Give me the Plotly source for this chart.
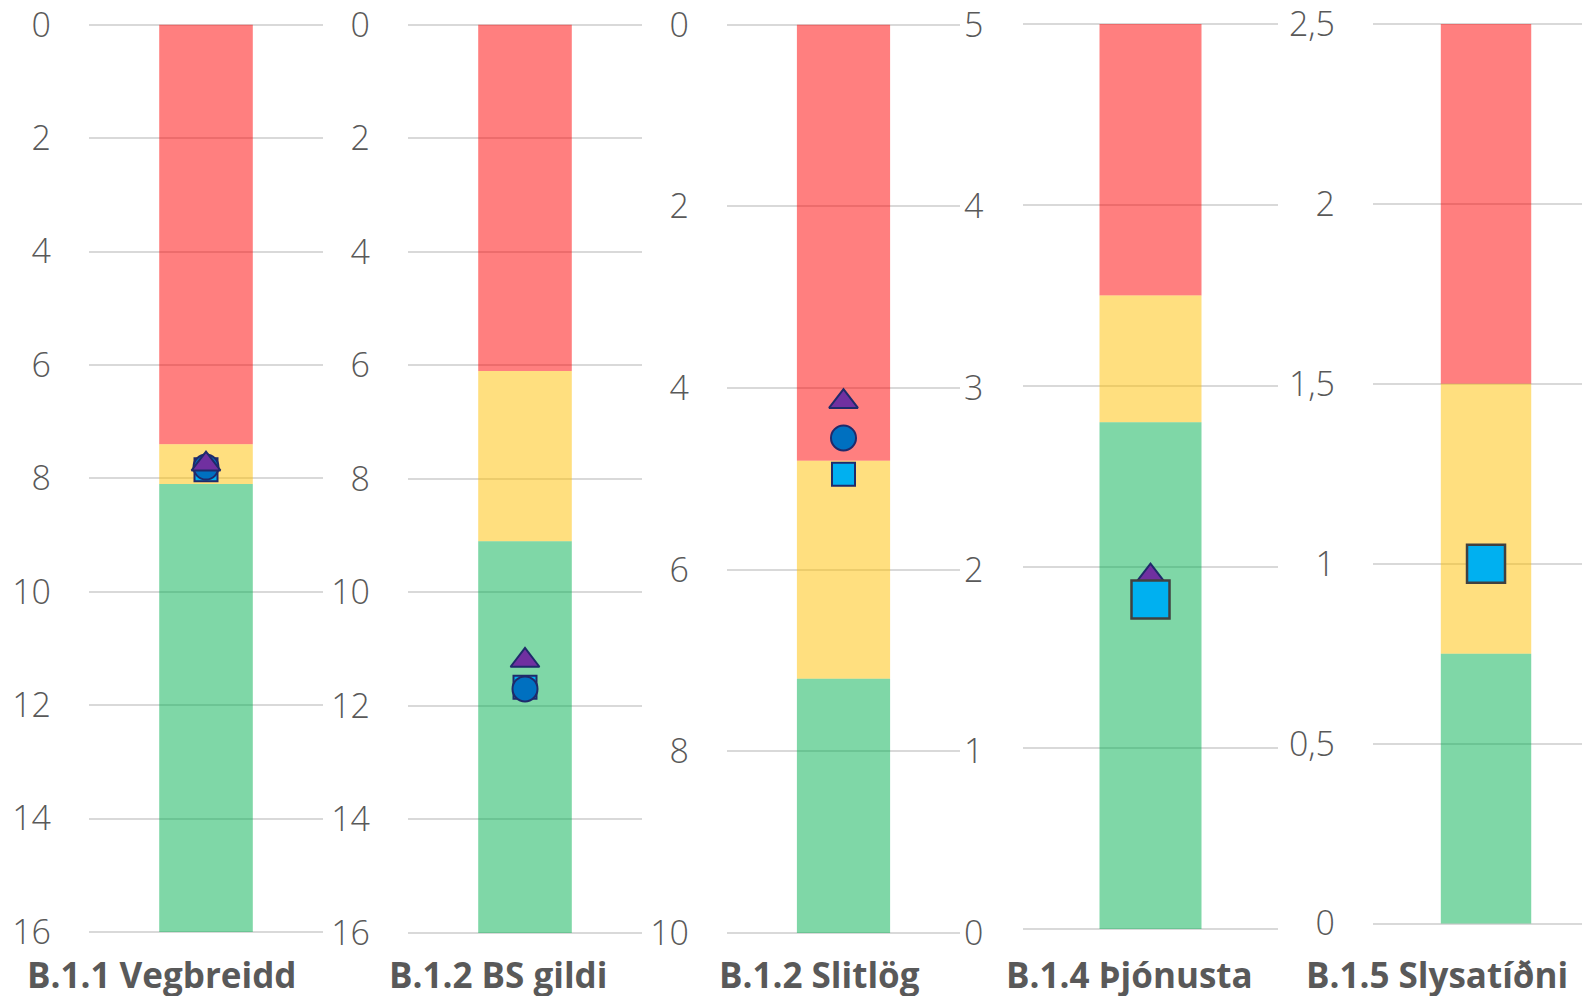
import plotly.graph_objects as go

# page body has an 8px margin, so the figure is drawn 8px in from the top-left
OFF = 8
W, H = 1590 - OFF, 996 - OFF

# ---------------- data ----------------
panel_titles = ["B.1.1 Vegbreidd", "B.1.2 BS gildi", "B.1.2 Slitlög", "B.1.4 Þjónusta", "B.1.5 Slysatíðni"]

# colour bands (low, high) in each panel's bar-axis units
red_band = [(0, 7.4), (0, 6.1), (2.6, 5), (3.5, 5), (1.5, 2.5)]
yellow_band = [(7.4, 8.1), (6.1, 9.1), (1.4, 2.6), (2.8, 3.5), (0.75, 1.5)]
green_band = [(8.1, 16), (9.1, 16), (0, 1.4), (0, 2.8), (0, 0.75)]

# marker series (panel 3 values on its left, reversed 0-10 axis)
triangle_vals = [7.75, 11.2, 4.15, 1.95, None]
circle_vals = [7.8, 11.7, 4.55, 1.85, None]
square_vals = [7.85, 11.67, 4.95, None, None]
big_square_vals = [None, None, None, 1.82, 1.0]

# axis settings (min, max, reversed?, dtick)
bar_axis = [(0, 16, True, 2), (0, 16, True, 2), (0, 5, False, 1), (0, 5, False, 1), (0, 2.5, False, 0.5)]
left_axis_p3 = (0, 10, True, 2)

# ---------------- layout geometry (screen pixels) ----------------
x_dom_px = [(89, 323), (408, 642), (727, 960), (1023, 1278), (1373, 1590)]
y_dom_px = [(24.7, 932), (24.7, 933), (24.7, 933), (24, 929), (24, 923.5)]
x_ranges = [[-0.5, 0.5]] * 4 + [[-0.5, 0.46]]
title_x_px = [162, 498, 819, 1129, 1437]
title_y_px = 974
PAD = 2.0  # px of extra room so edge gridlines are drawn

RED, YEL, GRN = "#FF0000", "#FFC000", "#00B050"
GRID = "#d9d9d9"
TXT = "#595959"
FONT = "Open Sans"

def fx(px):
    return (px - OFF) / W

def fy(py):
    return 1 - (py - OFF) / H

def padded(axis, yt, yb):
    lo, hi, rev, dt = axis
    ppu = (yb - yt) / (hi - lo)
    e = PAD / ppu
    rng = [lo - e, hi + e]
    if rev:
        rng = rng[::-1]
    return rng, dt

fig = go.Figure()

def ax_suffix(i):
    return "" if i == 1 else str(i)

navy = "#1F2A6B"
for i in range(5):
    n = i + 1
    xa = "x" + ax_suffix(n)
    ya_bar = "y" + ax_suffix(n)
    for band, col in ((red_band, RED), (yellow_band, YEL), (green_band, GRN)):
        lo, hi = band[i]
        fig.add_trace(go.Bar(
            x=[0], y=[hi - lo], base=[lo], width=0.4,
            marker=dict(color=col, opacity=0.5, line=dict(width=0)),
            xaxis=xa, yaxis=ya_bar, showlegend=False, hoverinfo="skip"))

    ya_mk = "y6" if n == 3 else ya_bar
    if square_vals[i] is not None:
        fig.add_trace(go.Scatter(
            x=[0], y=[square_vals[i]], mode="markers",
            marker=dict(symbol="square", size=23, color="#00B0F0", line=dict(color=navy, width=2)),
            xaxis=xa, yaxis=ya_mk, showlegend=False))
    if circle_vals[i] is not None:
        fig.add_trace(go.Scatter(
            x=[0], y=[circle_vals[i]], mode="markers",
            marker=dict(symbol="circle", size=25, color="#0070C0", line=dict(color=navy, width=2)),
            xaxis=xa, yaxis=ya_mk, showlegend=False))
    if triangle_vals[i] is not None:
        fig.add_trace(go.Scatter(
            x=[0], y=[triangle_vals[i]], mode="markers",
            marker=dict(symbol="triangle-up", size=25, color="#7030A0", line=dict(color=navy, width=2)),
            xaxis=xa, yaxis=ya_mk, showlegend=False))
    if big_square_vals[i] is not None:
        fig.add_trace(go.Scatter(
            x=[0], y=[big_square_vals[i]], mode="markers",
            marker=dict(symbol="square", size=38, color="#00B0F0", line=dict(color="#404040", width=2.5)),
            xaxis=xa, yaxis=ya_mk, showlegend=False))

layout = dict(
    width=W, height=H,
    margin=dict(l=0, r=0, t=0, b=0, autoexpand=False),
    paper_bgcolor="white", plot_bgcolor="rgba(0,0,0,0)",
    barmode="overlay", separators=", ",
    font=dict(family=FONT, color=TXT),
    annotations=[],
)

tickfont = dict(family=FONT, size=34, color=TXT, weight=300)

for i in range(5):
    n = i + 1
    x0, x1 = x_dom_px[i]
    yt, yb = y_dom_px[i]
    xdom = [max(0, fx(x0)), min(1, fx(x1))]
    ydom = [max(0, fy(yb + PAD)), min(1, fy(yt - PAD))]
    rng, dt = padded(bar_axis[i], yt, yb)
    layout["xaxis" + ax_suffix(n)] = dict(
        domain=xdom, range=x_ranges[i], anchor="y" + ax_suffix(n), automargin=False,
        showgrid=False, zeroline=False, showticklabels=False, showline=False, fixedrange=True)
    yax = dict(
        domain=ydom, range=rng, dtick=dt, tick0=0, automargin=False,
        anchor="x" + ax_suffix(n), ticklabeloverflow="allow",
        showgrid=True, gridcolor=GRID, gridwidth=1.6, zeroline=False, showline=False,
        ticks="", tickfont=tickfont, ticklabelstandoff=37, fixedrange=True)
    if n == 3:
        yax.update(side="right", ticklabelstandoff=3)
        rng6, dt6 = padded(left_axis_p3, yt, yb)
        layout["yaxis6"] = dict(
            overlaying="y3", side="left", anchor="x3", automargin=False,
            range=rng6, dtick=dt6, tick0=0, ticklabeloverflow="allow",
            showgrid=False, zeroline=False, showline=False, ticks="",
            tickfont=tickfont, ticklabelstandoff=37, fixedrange=True)
    if n == 4:
        yax.update(showticklabels=False)
    layout["yaxis" + ax_suffix(n)] = yax
    layout["annotations"].append(dict(
        text="<b>%s</b>" % panel_titles[i], x=fx(title_x_px[i]), y=fy(title_y_px),
        xref="paper", yref="paper", xanchor="center", yanchor="middle", showarrow=False,
        font=dict(family=FONT, size=35, color=TXT)))

fig.update_layout(**layout)
fig.write_html("out.html")
